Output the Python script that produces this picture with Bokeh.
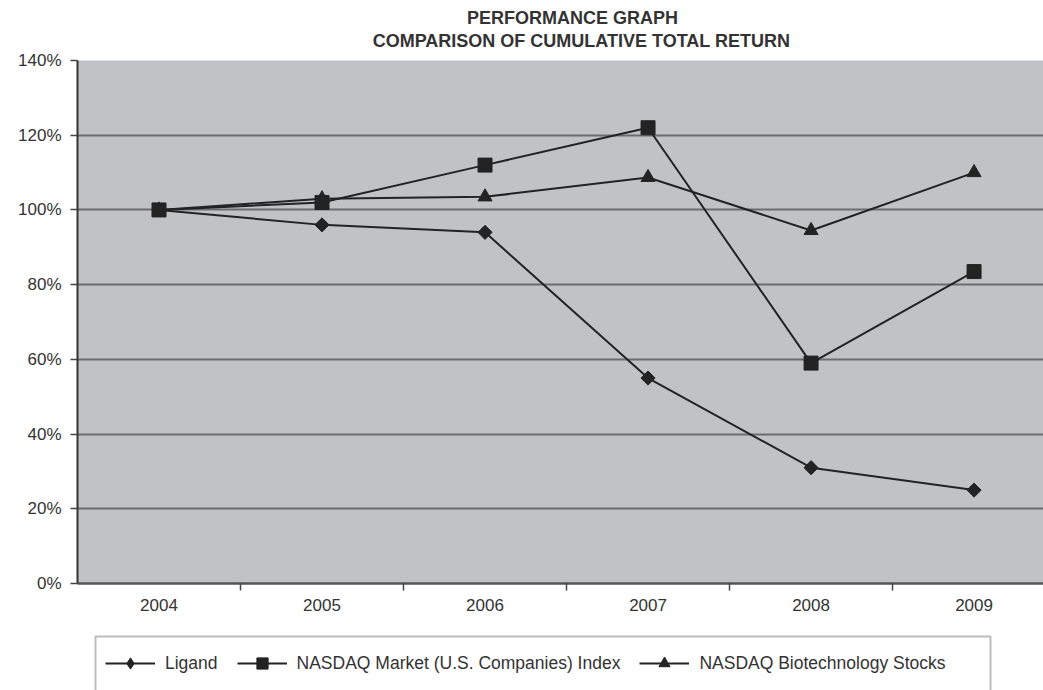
import math
from bokeh.plotting import figure
from bokeh.layouts import column
from bokeh.models import (FixedTicker, Legend, LegendItem, Label, Range1d, LinearAxis,
                          BoxAnnotation)
from bokeh.embed import file_html
from bokeh.resources import INLINE

# ---- data ----
years = ["2004", "2005", "2006", "2007", "2008", "2009"]
ligand = [100, 96, 94, 55, 31, 25]
nasdaq_market = [100, 102, 112, 122, 59, 83.5]
nasdaq_biotech = [100, 103, 103.5, 108.7, 94.5, 110]
y_ticks = [0, 20, 40, 60, 80, 100, 120, 140]
y_labels = ["0%", "20%", "40%", "60%", "80%", "100%", "120%", "140%"]
series_names = ["Ligand", "NASDAQ Market (U.S. Companies) Index", "NASDAQ Biotechnology Stocks"]
title_lines = ["PERFORMANCE GRAPH", "COMPARISON OF CUMULATIVE TOTAL RETURN"]

FONT = "Liberation Sans"
TXT = "#333333"
INK = "#232323"

xs = list(range(len(years)))

# ---- title strip (frame aligned with the chart frame; 1 data unit = 1 px) ----
t = figure(width=1043, height=50, output_backend="svg", toolbar_location=None,
           x_range=Range1d(0, 966), y_range=Range1d(0, 50),
           x_axis_type=None, y_axis_type=None, min_border=0)
t.outline_line_color = None
t.background_fill_color = "white"
t.grid.visible = False
for txt, (lx, ly) in zip(title_lines, [(495, 33), (504, 10)]):
    t.add_layout(Label(x=lx, y=ly, text=txt, text_align="center", text_baseline="middle",
                       text_font=FONT, text_font_size="18px", text_font_style="bold",
                       text_color=TXT))

# ---- main chart ----
p = figure(width=1043, height=580, output_backend="svg", toolbar_location=None,
           x_range=Range1d(-0.5, 5.426), y_range=Range1d(0, 140),
           x_axis_type=None, min_border_left=77, min_border_right=0,
           min_border_top=10, min_border_bottom=47)
p.background_fill_color = "#c1c2c4"
p.border_fill_color = "white"
p.outline_line_color = None

# x axis: labels at categories, tick marks between them
xaxis = LinearAxis(ticker=FixedTicker(ticks=xs, minor_ticks=[i + 0.5 for i in xs[:-1]]))
xaxis.major_label_overrides = {i: y for i, y in zip(xs, years)}
xaxis.major_tick_line_color = None
xaxis.major_tick_out = 0
xaxis.major_tick_in = 0
xaxis.minor_tick_out = 7
xaxis.minor_tick_in = 0
xaxis.minor_tick_line_color = "#444444"
xaxis.minor_tick_line_width = 1.5
xaxis.axis_line_color = "#555555"
xaxis.axis_line_width = 2.5
xaxis.major_label_standoff = 8
xaxis.major_label_text_font = FONT
xaxis.major_label_text_font_size = "17px"
xaxis.major_label_text_color = TXT
p.add_layout(xaxis, "below")

# y axis
yaxis = p.yaxis[0]
yaxis.ticker = FixedTicker(ticks=y_ticks)
yaxis.major_label_overrides = {tk: lb for tk, lb in zip(y_ticks, y_labels)}
yaxis.minor_tick_line_color = None
yaxis.major_tick_out = 7
yaxis.major_tick_in = 0
yaxis.major_tick_line_color = "#444444"
yaxis.major_tick_line_width = 1.5
yaxis.axis_line_color = "#333333"
yaxis.axis_line_width = 2
yaxis.major_label_standoff = 9
yaxis.major_label_text_font = FONT
yaxis.major_label_text_font_size = "17px"
yaxis.major_label_text_color = TXT

p.xgrid.visible = False
p.ygrid.ticker = FixedTicker(ticks=[tk for tk in y_ticks if 0 < tk < 140])
p.ygrid.grid_line_color = "#6c6c6c"
p.ygrid.grid_line_width = 2

# ---- legend strip below the chart ----
q = figure(width=1043, height=60, output_backend="svg", toolbar_location=None,
           x_range=Range1d(0, 966), y_range=Range1d(1000, 1060),
           x_axis_type=None, y_axis_type=None, min_border=0)
q.outline_line_color = None
q.background_fill_color = "white"
q.grid.visible = False

# legend frame (bottom edge runs off the page, as in the original)
q.add_layout(BoxAnnotation(left=18, right=913, bottom=990, top=1054,
                           fill_color="white", fill_alpha=1,
                           line_color="#222222", line_width=2))

# series
specs = [(ligand, "square", 10, math.pi / 4, "diamond", 14),
         (nasdaq_market, "square", 14, 0, "square", 11),
         (nasdaq_biotech, "triangle", 14, 0, "triangle", 12)]
items = []
for name, (vals, marker, size, ang, lmarker, lsize) in zip(series_names, specs):
    p.line(xs, vals, line_color=INK, line_width=2)
    p.scatter(xs, vals, marker=marker, size=size, angle=ang, fill_color=INK, line_color=INK)
    # same series in the legend strip (outside its visible y range) to supply legend glyphs
    ln = q.line(xs, vals, line_color=INK, line_width=2)
    sc = q.scatter(xs, vals, marker=lmarker, size=lsize, fill_color=INK, line_color=INK)
    items.append(LegendItem(label=name, renderers=[ln, sc]))

legend = Legend(items=items, orientation="horizontal", location=(28, 13),
                label_text_font=FONT, label_text_font_size="17.5px", label_text_color=TXT,
                glyph_width=50, glyph_height=28, label_standoff=10, spacing=19,
                padding=12, margin=0,
                border_line_color=None, background_fill_alpha=0)
q.add_layout(legend, "center")

layout = column(t, p, q, spacing=0)
open("out.html", "w").write(file_html(layout, INLINE))
